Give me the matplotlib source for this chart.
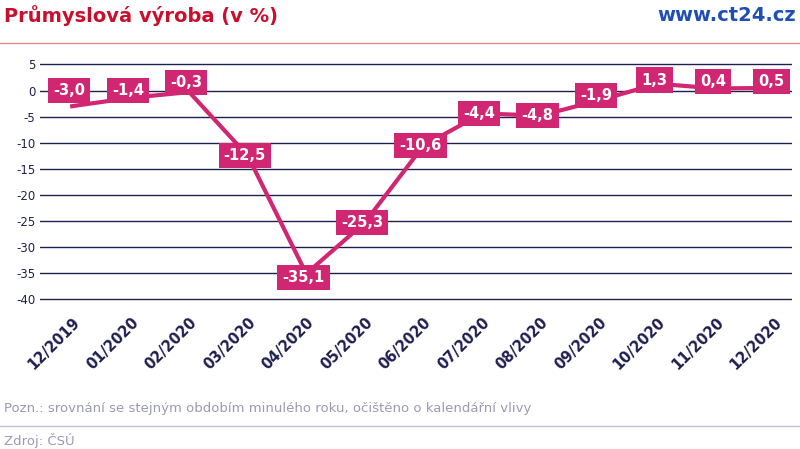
import matplotlib.pyplot as plt

plt.rcParams['axes.unicode_minus'] = False

months = ['12/2019', '01/2020', '02/2020', '03/2020', '04/2020', '05/2020', '06/2020',
          '07/2020', '08/2020', '09/2020', '10/2020', '11/2020', '12/2020']
values = [-3.0, -1.4, -0.3, -12.5, -35.1, -25.3, -10.6, -4.4, -4.8, -1.9, 1.3, 0.4, 0.5]
label_y = [0.0, 0.0, 1.5, -12.5, -35.8, -25.3, -10.6, -4.4, -4.8, -1.0, 2.0, 1.8, 1.8]

pink = '#d12671'
navy = '#1f1f4f'

fig = plt.figure(figsize=(8, 4.49), dpi=100)
ax = fig.add_axes([0.05, 0.33, 0.94, 0.53])

x = range(len(months))
ax.plot(x, values, color=pink, lw=3, solid_joinstyle='round', zorder=3)
for i, (v, ly) in enumerate(zip(values, label_y)):
    ax.text(i - 0.05, ly, f'{v:.1f}'.replace('.', ','), color='white', fontsize=10.5,
            fontweight='bold', ha='center', va='center', zorder=4,
            bbox=dict(boxstyle='square,pad=0.35', fc=pink, ec='none'))

ax.set_ylim(-40.3, 5.3)
ax.set_xlim(-0.55, 12.3)
ax.set_yticks(range(-40, 6, 5))
ax.grid(axis='y', color=navy, lw=1)
ax.set_axisbelow(True)
for s in ax.spines.values():
    s.set_visible(False)
ax.tick_params(length=0, colors=navy, labelsize=8.5)
ax.set_xticks(list(x))
ax.set_xticklabels(months, rotation=45, ha='right', rotation_mode='anchor',
                   fontsize=10.5, fontweight='bold', color=navy)
ax.tick_params(axis='x', pad=10)

fig.text(0.005, 0.965, 'Průmyslová výroba (v %)', color='#c8102e', fontsize=14,
         fontweight='bold', va='center')
fig.text(0.995, 0.965, 'www.ct24.cz', color='#1f4fb4', fontsize=14,
         fontweight='bold', va='center', ha='right')
fig.add_artist(plt.Line2D([0, 1], [0.904, 0.904], color='#e08a90', lw=1))
fig.text(0.005, 0.09, 'Pozn.: srovnání se stejným obdobím minulého roku, očištěno o kalendářní vlivy',
         color='#9a9ab0', fontsize=9.5, va='center')
fig.add_artist(plt.Line2D([0, 1], [0.052, 0.052], color='#c0c0d0', lw=1))
fig.text(0.005, 0.02, 'Zdroj: ČSÚ', color='#9a9ab0', fontsize=9.5, va='center')

fig.savefig('out.png', dpi=100)
